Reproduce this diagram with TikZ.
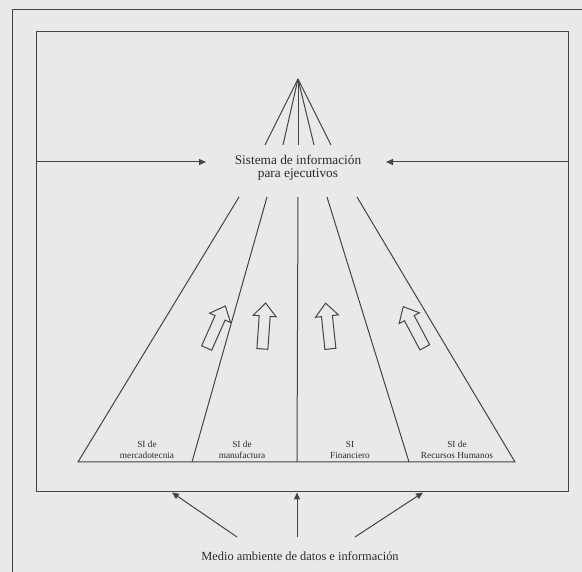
\documentclass[tikz,border=0pt]{standalone}
\usepackage{fontspec}
\setmainfont{Liberation Serif}
\usetikzlibrary{arrows.meta}
\definecolor{bg}{HTML}{E8E9EA}
\definecolor{ink}{HTML}{444444}
\definecolor{txt}{HTML}{2A2A2A}
\tikzset{
  ln/.style={draw=ink, line width=1pt},
  arr/.style={ln, -{Triangle[length=7pt,width=6pt]}},
  barrow/.style={draw=ink, line width=1pt, line join=miter},
  title/.style={text=txt, align=center, font=\fontsize{13.3}{13}\selectfont, inner sep=0pt},
  lab/.style={text=txt, align=center, font=\fontsize{9.3}{11}\selectfont, inner sep=0pt},
  envtext/.style={text=txt, font=\fontsize{12.4}{14}\selectfont, inner sep=0pt}
}
\newcommand\blockarrow[3]{%
  \draw[barrow, shift={(#1,#2)}, rotate=#3]
    (-5.5,23) -- (-5.5,-10) -- (-11.5,-10) -- (0,-23) -- (11.5,-10) -- (5.5,-10) -- (5.5,23) -- cycle;}
\begin{document}
\begin{tikzpicture}[x=1pt,y=-1pt]
\useasboundingbox (0,0) rectangle (582,572);
\fill[bg] (0,0) rectangle (582,572);
% outer frame (top and left edges visible)
\draw[ln] (582,10) -- (12,10) -- (12,572);
% inner box
\draw[ln] (36,32) rectangle (568,492);
% title
\node[title] (title) at (298,168) {Sistema de información\\para ejecutivos};
\coordinate (inL) at (36,162);
\coordinate (inR) at (568,162);
\coordinate (tL) at (206,162);
\coordinate (tR) at (386,162);
\draw[arr] (inL) -- (tL);
\draw[arr] (inR) -- (tR);
% upper fan
\coordinate (apex) at (298,79);
\coordinate (u1) at (265,145);
\coordinate (u2) at (283,145);
\coordinate (u3) at (298,145);
\coordinate (u4) at (314,145);
\coordinate (u5) at (331,145);
\foreach \u in {u1,u2,u3,u4,u5} \draw[ln] (apex) -- (\u);
% lower fan
\coordinate (s1) at (239,197);
\coordinate (s2) at (267,197);
\coordinate (s3) at (298,197);
\coordinate (s4) at (327,197);
\coordinate (s5) at (357,197);
\coordinate (b1) at (78,462);
\coordinate (b2) at (192,462);
\coordinate (b3) at (297,462);
\coordinate (b4) at (409,462);
\coordinate (b5) at (515,462);
\draw[ln] (s1) -- (b1) -- (b5) -- (s5);
\draw[ln] (s2) -- (b2);
\draw[ln] (s3) -- (b3);
\draw[ln] (s4) -- (b4);
% block arrows
\blockarrow{216}{327}{-24}
\blockarrow{264}{326}{-4}
\blockarrow{328}{326}{6}
\blockarrow{414}{327}{28}
% labels
\node[lab] (l1) at (147,450) {SI de\\mercadotecnia};
\node[lab] (l2) at (242,450) {SI de\\manufactura};
\node[lab] (l3) at (350,450) {SI\\Financiero};
\node[lab] (l4) at (457,450) {SI de\\Recursos Humanos};
% environment
\node[envtext] (env) at (300,556) {Medio ambiente de datos e información};
\coordinate (e1) at (237,537);
\coordinate (e2) at (297,537);
\coordinate (e3) at (355,537);
\coordinate (t1) at (172,492.5);
\coordinate (t2) at (297,492.5);
\coordinate (t3) at (423,492.5);
\draw[arr] (e1) -- (t1);
\draw[arr] (e2) -- (t2);
\draw[arr] (e3) -- (t3);
\end{tikzpicture}
\end{document}
